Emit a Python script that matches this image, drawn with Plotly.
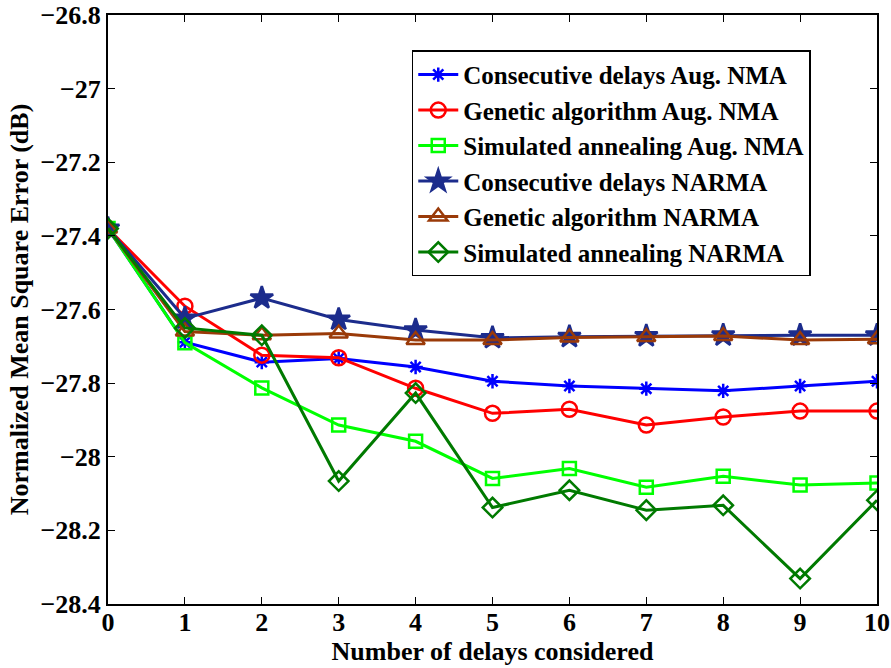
import plotly.graph_objects as go

delays = [0, 1, 2, 3, 4, 5, 6, 7, 8, 9, 10]

cd_aug_nma = [-27.38, -27.689, -27.743, -27.733, -27.756, -27.795, -27.808, -27.815, -27.821, -27.808, -27.795]
ga_aug_nma = [-27.38, -27.591, -27.724, -27.731, -27.814, -27.882, -27.871, -27.914, -27.892, -27.876, -27.876]
sa_aug_nma = [-27.38, -27.690, -27.813, -27.914, -27.958, -28.059, -28.032, -28.083, -28.053, -28.077, -28.071]
cd_narma = [-27.38, -27.624, -27.569, -27.627, -27.656, -27.677, -27.674, -27.672, -27.670, -27.670, -27.670]
ga_narma = [-27.38, -27.660, -27.670, -27.665, -27.683, -27.683, -27.676, -27.675, -27.672, -27.683, -27.681]
sa_narma = [-27.38, -27.650, -27.670, -28.066, -27.827, -28.138, -28.091, -28.145, -28.132, -28.331, -28.118]

names = [
    "Consecutive delays Aug. NMA",
    "Genetic algorithm Aug. NMA",
    "Simulated annealing Aug. NMA",
    "Consecutive delays NARMA",
    "Genetic algorithm NARMA",
    "Simulated annealing NARMA",
]
series = [cd_aug_nma, ga_aug_nma, sa_aug_nma, cd_narma, ga_narma, sa_narma]
colors = ["#0000FF", "#FF0000", "#00FF00", "#1C2C8C", "#9A3A08", "#007A00"]
symbols = ["asterisk-open", "circle-open", "square-open", "star", "triangle-up-open", "diamond-open"]
sizes = [12, 15, 13, 17, 16, 15]

FONT = "Liberation Serif"
FS = 26

fig = go.Figure()
for name, ys, c, s, sz in zip(names, series, colors, symbols, sizes):
    fig.add_trace(go.Scatter(
        x=delays, y=ys, name="<b>" + name + "</b>", mode="lines+markers",
        line=dict(color=c, width=3),
        marker=dict(symbol=s, size=sz, color=c, line=dict(color=c, width=2.5)),
    ))

axis_common = dict(
    showgrid=False, zeroline=False, showline=True, linecolor="black", linewidth=2,
    mirror="ticks", ticks="inside", ticklen=7, tickwidth=1, tickcolor="black",
    tickfont=dict(family=FONT, size=FS, color="black"),
    automargin=False, tickprefix="<b>", ticksuffix="</b>",
)

fig.update_layout(
    width=891, height=668,
    margin=dict(l=108, r=14, t=15, b=64),
    paper_bgcolor="white", plot_bgcolor="white",
    font=dict(family=FONT, color="black"),
    xaxis=dict(range=[0, 10], dtick=1, tick0=0, ticklabelstandoff=-6,
               title=dict(text="<b>Number of delays considered</b>", font=dict(family=FONT, size=FS), standoff=0),
               **axis_common),
    yaxis=dict(range=[-28.4, -26.8], dtick=0.2, tick0=-28.4,
               title=dict(text="<b>Normalized Mean Square Error (dB)</b>", font=dict(family=FONT, size=FS), standoff=4),
               **axis_common),
    legend=dict(x=0.395, y=0.94, xanchor="left", yanchor="top",
                bgcolor="white", bordercolor="black", borderwidth=1.5,
                font=dict(family=FONT, size=25, color="black"),
                itemwidth=40, tracegroupgap=0),
    showlegend=True,
)

fig.write_html("out.html")
